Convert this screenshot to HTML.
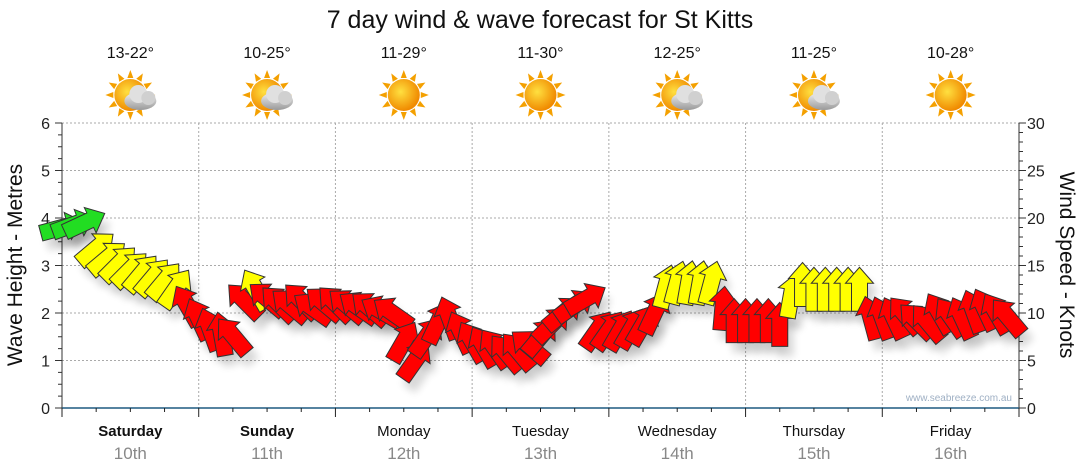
<!DOCTYPE html>
<html><head><meta charset="utf-8"><style>
body{margin:0;background:#fff;}
svg{display:block;font-family:"Liberation Sans",sans-serif;}
</style></head><body>
<svg id="c" width="1080" height="475">
<defs>
<filter id="sh" x="-50%" y="-50%" width="200%" height="200%"><feGaussianBlur stdDeviation="4"/></filter>
<radialGradient id="sunG" cx="40%" cy="40%" r="60%"><stop offset="0" stop-color="#ffe040"/><stop offset="1" stop-color="#f08a00"/></radialGradient>
<linearGradient id="cloudG" x1="0" y1="0" x2="0" y2="1"><stop offset="0" stop-color="#f2f2f2"/><stop offset="1" stop-color="#9a9a9a"/></linearGradient>
</defs>
<text x="540" y="28" text-anchor="middle" font-size="25" fill="#111">7 day wind &amp; wave forecast for St Kitts</text>
<g id="grid"></g><g id="axes"></g><g id="shadows"></g><g id="marks"></g><g id="icons"></g>
<text x="1012" y="401" text-anchor="end" font-size="10" fill="#9fb0c4">www.seabreeze.com.au</text>
<text transform="translate(22,265) rotate(-90)" text-anchor="middle" font-size="21" fill="#111">Wave Height - Metres</text>
<text transform="translate(1060,265) rotate(90)" text-anchor="middle" font-size="21" fill="#111">Wind Speed - Knots</text>
</svg>
<script>
const days=["Saturday","Sunday","Monday","Tuesday","Wednesday","Thursday","Friday"];
const dates=["10th","11th","12th","13th","14th","15th","16th"];
const temps=["13-22°","10-25°","11-29°","11-30°","12-25°","11-25°","10-28°"];
const cloudy=[1,1,0,0,1,1,0];
const waveTicks=[0,1,2,3,4,5,6];
const windTicks=[0,5,10,15,20,25,30];
const windKnots=[19,19.3,19.5,16.8,15.8,15.2,14.6,14.2,13.8,13.4,12.6,10.8,9.4,8.3,7.8,7.6,11.3,12.5,11.5,11,10.8,11.3,10.5,11,11,10.8,10.6,10.5,10.2,10,7,5,7.5,9,9.5,8,7,6.5,6.3,5.8,6,6.5,7.5,8.8,10,10.8,11.5,8.2,8.2,8.2,8.4,8.8,10,12.8,13.2,13.2,13.2,13.2,10.5,9.2,9.2,9.2,9.2,8.8,11.8,13,12.5,12.5,12.5,12.5,12.5,9.5,9.5,9.5,9.8,9.2,9,10,9.6,9.5,10.2,10.4,10,9.6];
const windDir=[75,70,65,50,50,45,45,40,40,40,35,330,335,340,350,320,315,330,310,315,310,315,305,310,315,310,305,310,300,305,30,35,35,25,340,335,330,330,325,320,320,310,40,45,50,55,60,35,35,30,30,30,25,15,15,10,10,15,5,0,0,0,0,0,10,0,0,0,0,0,0,345,340,335,320,315,320,330,325,335,340,335,330,320];

const X0=62,X1=1019,Y0=408,Y1=123,ns="http://www.w3.org/2000/svg";
const dayW=(X1-X0)/7;
const xT=h=>X0+h*(X1-X0)/168;
const yM=m=>Y0-m*(Y0-Y1)/6;
const yK=k=>Y0-k*(Y0-Y1)/30;
function mk(tag,attrs,parent){const e=document.createElementNS(ns,tag);for(const k in attrs)e.setAttribute(k,attrs[k]);parent.appendChild(e);return e;}
const G=document.getElementById('grid'),A=document.getElementById('axes'),S=document.getElementById('shadows'),M=document.getElementById('marks'),I=document.getElementById('icons');
waveTicks.forEach(m=>{
  if(m>0){const l=mk('line',{x1:X0,x2:X1,y1:yM(m),y2:yM(m),stroke:'#aaa','stroke-dasharray':'2,2'},G);
  
  }
  const t=mk('text',{x:X0-12,y:yM(m)+6,'text-anchor':'end','font-size':16,fill:'#222'},A);t.textContent=m;
  
  
});
for(let q=0;q<=24;q++){const y=yM(q/4);mk('line',{x1:X0-(q%4?4:7),x2:X0,y1:y,y2:y,stroke:'#333'},A);}
windTicks.forEach(k=>{
  const t=mk('text',{x:X1+8,y:yK(k)+6,'font-size':16,fill:'#222'},A);t.textContent=k;
  
  
});
for(let k=0;k<=30;k++){const y=yK(k);mk('line',{x1:X1,x2:X1+(k%5?4:7),y1:y,y2:y,stroke:'#333'},A);}
mk('line',{x1:X0,x2:X0,y1:Y1,y2:Y0,stroke:'#333'},A);
mk('line',{x1:X1,x2:X1,y1:Y1,y2:Y0,stroke:'#333'},A);
mk('line',{x1:X0,x2:X1,y1:Y0,y2:Y0,stroke:'#1f5a80','stroke-width':1.5},A);
for(let q=0;q<=28;q++){const x=xT(q*6);mk('line',{x1:x,x2:x,y1:Y0,y2:Y0+(q%4?4:9),stroke:'#222'},A);
  if(q%4==0&&q>0&&q<28){const l=mk('line',{x1:x,x2:x,y1:Y1,y2:Y0,stroke:'#aaa','stroke-dasharray':'2,2'},G);
  
  }}
days.forEach((d,i)=>{
  const cx=X0+dayW*(i+0.5);
  const t=mk('text',{x:cx,y:436,'text-anchor':'middle','font-size':15,fill:'#111','font-weight':i<2?'bold':'normal'},A);t.textContent=d;
  
  
  const t2=mk('text',{x:cx,y:459,'text-anchor':'middle','font-size':17,fill:'#888'},A);t2.textContent=dates[i];
  
  
  const t3=mk('text',{x:cx,y:58,'text-anchor':'middle','font-size':16,fill:'#111'},I);t3.textContent=temps[i];
  
  
  const g=mk('g',{transform:`translate(${cx},95)`},I);
  
  
  for(let r=0;r<12;r++){const a=r*30;mk('polygon',{points:'-3,-17 3,-17 0,-25',fill:'#f4a000',transform:`rotate(${a})`},g);}
  mk('circle',{cx:0,cy:0,r:16,fill:'url(#sunG)'},g);
  if(cloudy[i]){mk('ellipse',{cx:10,cy:6,rx:16,ry:9,fill:'url(#cloudG)'},g);mk('circle',{cx:8,cy:-1,r:9,fill:'#e0e0e0'},g);mk('circle',{cx:18,cy:3,r:7,fill:'#d0d0d0'},g);}
});
const arrowPts='-8,22 8,22 8,-6 14,-6 0,-22 -14,-6 -8,-6';
windKnots.forEach((k,i)=>{
  const x=xT(i*2),y=yK(k),col=k>=18?'#22dd22':(k>=11.6?'#ffff00':'#ff0000');
  const s=mk('polygon',{points:arrowPts,fill:'#000',opacity:0.15,filter:'url(#sh)',transform:`translate(${x+6},${y+10}) rotate(${windDir[i]})`},S);
  
  
  const p=mk('polygon',{points:arrowPts,fill:col,stroke:'#333','stroke-width':1,transform:`translate(${x},${y}) rotate(${windDir[i]})`},M);
  
  
});
</script>
</body></html>
